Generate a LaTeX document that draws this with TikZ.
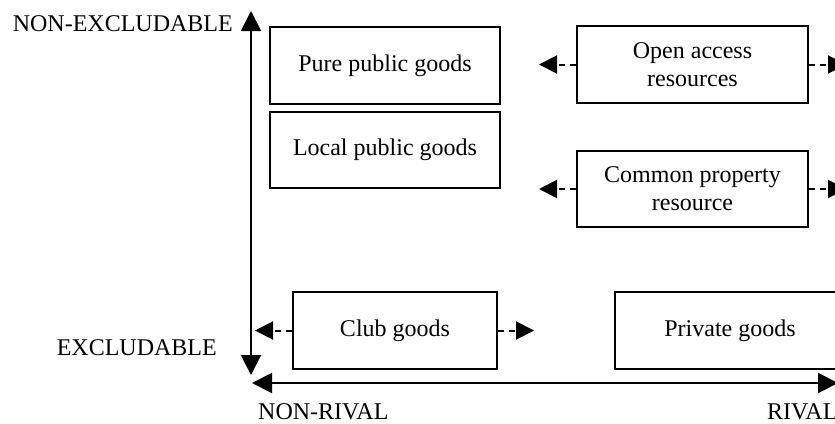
\documentclass[tikz,border=0pt]{standalone}
\usepackage{fontspec}
\setmainfont{Liberation Serif}
\usetikzlibrary{arrows.meta}
\begin{document}
\begin{tikzpicture}[x=1pt,y=-1pt,
  box/.style={draw,line width=2pt,rectangle,minimum width=230pt,minimum height=77pt,inner sep=0pt,align=center,font=\fontsize{24}{28}\selectfont},
  lbl/.style={inner sep=0pt,font=\fontsize{24}{28}\selectfont},
  axis/.style={line width=2pt,{Triangle[length=20pt,width=20pt]}-{Triangle[length=20pt,width=20pt]}},
  dlink/.style={line width=2pt,dash pattern=on 6pt off 5pt,-{Triangle[length=18pt,width=18pt]}}]
\useasboundingbox (0,0) rectangle (835,423);
\clip (0,0) rectangle (835,423);
% axes
\coordinate (vtop) at (251,11);
\coordinate (vbot) at (251,375);
\coordinate (hleft) at (252,383);
\coordinate (hright) at (838,383);
\draw[axis] (vbot) -- (vtop);
\draw[axis] (hleft) -- (hright);
% labels
\node[lbl,anchor=east] (nex) at (233,24) {NON-EXCLUDABLE};
\node[lbl,anchor=east] (ex) at (217,348) {EXCLUDABLE};
\node[lbl,anchor=base west] (nr) at (258,419) {NON-RIVAL};
\node[lbl,anchor=base west] (rv) at (767,419) {RIVAL};
% boxes
\node[box] (pure) at (385,65.5) {Pure public goods};
\node[box,minimum height=76pt] (local) at (385,150) {Local public goods};
\node[box,minimum width=231pt] (open) at (692.5,64.5) {Open access\\resources};
\node[box,minimum width=231pt,minimum height=76pt] (common) at (692.5,189) {Common property\\resource};
\node[box,minimum width=204pt] (club) at (395,330.5) {Club goods};
\node[box] (private) at (730,330.5) {Private goods};
% dashed arrows
\coordinate (openL) at (539,64.5);
\coordinate (openR) at (846,64.5);
\coordinate (comL) at (539,189);
\coordinate (comR) at (846,189);
\coordinate (clubL) at (255,330.5);
\coordinate (clubR) at (534,330.5);
\draw[dlink] (open.west) -- (openL);
\draw[dlink] (open.east) -- (openR);
\draw[dlink] (common.west) -- (comL);
\draw[dlink] (common.east) -- (comR);
\draw[dlink] (club.west) -- (clubL);
\draw[dlink] (club.east) -- (clubR);
\end{tikzpicture}
\end{document}
